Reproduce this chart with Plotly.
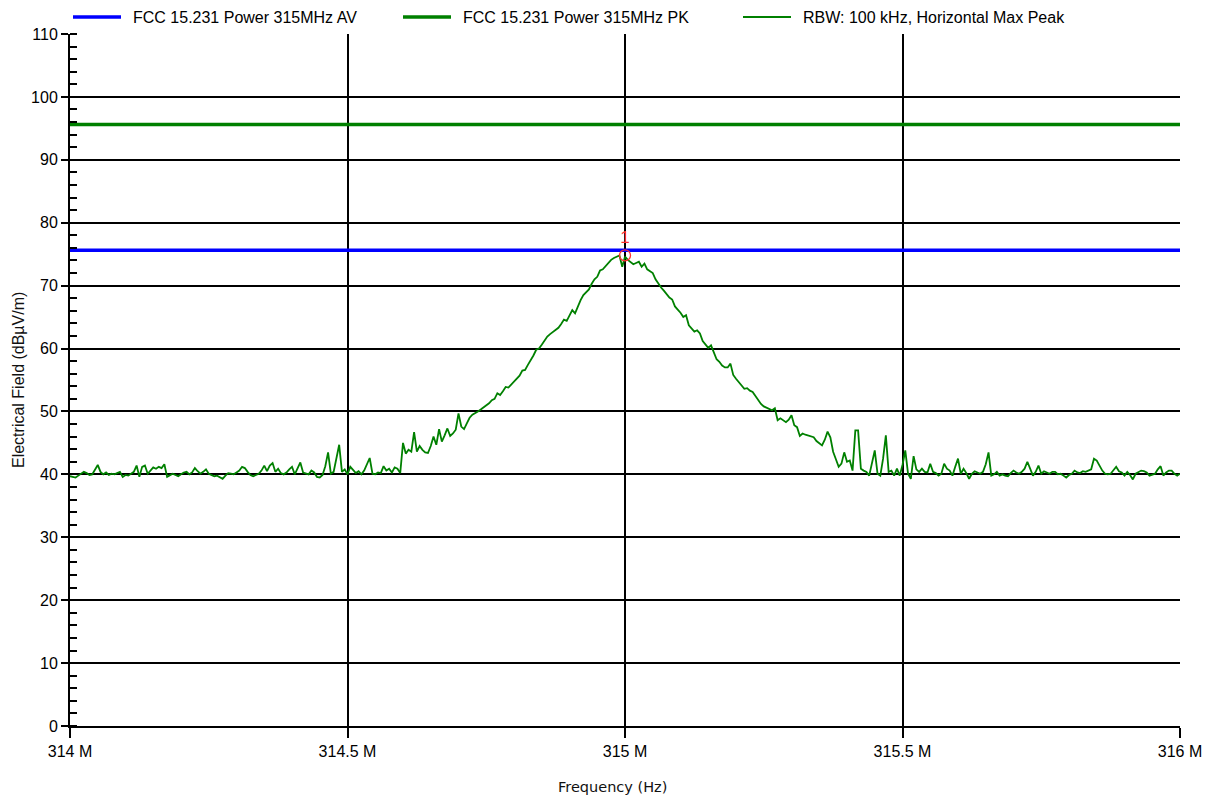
import numpy as np
import plotly.graph_objects as go

# Sweep settings: 314 MHz .. 316 MHz, 401 points
START_HZ = 314e6
STOP_HZ = 316e6
N_POINTS = 401

# Limit lines (dBuV/m)
limit_av = 75.62
limit_pk = 95.62

# Measured max-peak trace (dBuV/m), one value per sweep point
level = [
    39.7, 39.6, 39.5, 39.8, 40.1, 40.4, 40.2, 39.9, 40.0, 40.8,
    41.5, 40.4, 40.0, 40.3, 39.9, 40.1, 40.0, 40.2, 40.4, 39.6,
    39.9, 39.8, 40.1, 40.4, 41.4, 39.6, 41.2, 41.4, 40.1, 40.6,
    41.1, 40.9, 41.2, 41.0, 41.6, 39.6, 39.8, 40.1, 39.9, 39.7,
    40.0, 40.3, 40.4, 40.0, 40.3, 41.0, 40.5, 40.1, 40.4, 40.8,
    40.1, 39.9, 39.7, 39.8, 39.5, 39.3, 39.8, 40.2, 40.1, 40.0,
    40.3, 40.6, 41.2, 41.0, 40.4, 39.9, 39.7, 39.9, 40.1, 40.6,
    41.4, 40.5, 41.4, 41.8, 40.4, 40.9, 40.2, 40.0, 40.3, 40.8,
    41.2, 40.0, 41.0, 41.9, 40.3, 40.1, 40.0, 40.6, 40.3, 39.6,
    39.5, 39.9, 41.3, 43.5, 40.1, 40.4, 42.5, 44.7, 40.4, 40.8,
    40.0, 41.2, 40.7, 40.2, 40.5, 40.0, 40.6, 41.6, 42.6, 40.1,
    40.0, 40.3, 40.2, 41.3, 40.6, 40.9, 40.3, 41.1, 40.9, 40.2,
    45.0, 43.3, 43.9, 43.6, 46.7, 43.6, 44.5, 43.9, 43.5, 43.4,
    44.5, 46.0, 44.7, 47.2, 45.2, 46.2, 47.3, 46.1, 46.5, 47.1,
    49.7, 47.6, 47.2, 48.1, 49.0, 49.5, 49.7, 50.0, 50.3, 50.6,
    51.0, 51.3, 51.8, 52.0, 52.9, 52.6, 53.2, 53.9, 53.8, 54.3,
    54.8, 55.2, 55.7, 56.5, 56.6, 57.4, 58.1, 58.9, 59.8, 60.0,
    60.6, 61.3, 61.9, 62.3, 62.6, 62.9, 63.3, 63.9, 64.6, 64.4,
    65.3, 66.1, 65.6, 66.8, 67.7, 68.5, 68.9, 69.4, 70.3, 71.0,
    71.4, 72.4, 72.6, 73.1, 73.7, 74.1, 74.4, 74.6, 74.8, 73.0,
    74.6, 74.1, 73.7, 73.4, 73.6, 73.8, 73.0, 73.5, 72.6, 72.3,
    72.0, 71.0, 70.3, 69.7, 69.2, 68.6, 68.1, 67.8, 66.7, 66.2,
    65.7, 65.0, 65.3, 63.7, 63.2, 62.7, 62.9, 62.4, 61.2, 60.6,
    60.1, 60.5, 59.4, 58.3, 57.9, 57.3, 57.0, 57.0, 57.6, 55.8,
    55.2, 54.6, 54.0, 53.6, 53.7, 53.3, 53.1, 52.4, 51.8, 51.2,
    50.8, 50.6, 50.3, 50.2, 50.5, 48.6, 48.9, 48.6, 48.3, 48.7,
    49.4, 47.8, 47.5, 46.1, 46.5, 46.3, 46.2, 46.1, 45.9, 45.3,
    44.9, 44.6, 45.5, 46.8, 45.9, 43.6, 42.4, 41.2, 41.7, 43.5,
    42.0, 42.2, 40.6, 47.0, 47.0, 40.9, 40.6, 40.4, 39.8, 41.8,
    43.8, 40.1, 39.8, 42.5, 46.2, 40.4, 40.6, 39.8, 40.9, 39.8,
    41.5, 43.8, 40.1, 39.3, 42.9, 40.8, 40.4, 40.9, 40.4, 40.3,
    41.7, 40.4, 40.2, 39.8, 40.1, 41.7, 40.9, 40.6, 39.8, 41.2,
    42.5, 40.1, 40.9, 40.2, 39.3, 40.1, 40.5, 40.3, 40.1, 40.4,
    41.6, 43.5, 39.8, 40.0, 40.4, 39.8, 40.0, 39.8, 39.7, 40.2,
    40.6, 40.3, 40.1, 40.4, 40.9, 42.0, 40.8, 39.8, 40.4, 41.4,
    40.1, 40.5, 40.3, 40.1, 40.4, 40.4, 40.0, 40.1, 39.8, 39.5,
    39.9, 40.1, 40.6, 40.3, 40.2, 40.5, 40.4, 40.6, 40.8, 42.5,
    42.2, 41.4, 40.6, 40.1, 40.0, 40.1, 40.7, 41.2, 40.5, 40.3,
    39.8, 40.4, 39.9, 39.2, 40.1, 40.4, 40.6, 40.5, 40.3, 39.8,
    40.0, 40.1, 40.8, 41.3, 39.8, 40.3, 40.6, 40.6, 40.1, 39.8,
    40.1,
]

# Marker 1 position
marker_freq = 315e6
marker_level = 74.8
marker_label = "1"

x_tick_vals = [314e6, 314.5e6, 315e6, 315.5e6, 316e6]
x_tick_text = ["314 M", "314.5 M", "315 M", "315.5 M", "316 M"]
y_tick_vals = list(range(0, 111, 10))

legend_names = [
    "FCC 15.231 Power 315MHz AV",
    "FCC 15.231 Power 315MHz PK",
    "RBW: 100 kHz, Horizontal Max Peak",
]
legend_colors = ["#0000ff", "#008000", "#008000"]
legend_widths = [3.5, 3.5, 1.8]

freq = np.linspace(START_HZ, STOP_HZ, N_POINTS)

FONT = "Liberation Sans, Arial, sans-serif"
W, H = 1212, 797
ML, MR, MT, MB = 70, 32, 34, 71
PW, PH = W - ML - MR, H - MT - MB


def px_x(px):
    """Horizontal pixel position -> paper coordinate."""
    return (px - ML) / PW


def px_y(py):
    """Vertical pixel position (from top) -> paper coordinate."""
    return (H - MB - py) / PH


fig = go.Figure()

fig.add_trace(go.Scatter(
    x=[START_HZ, STOP_HZ], y=[limit_av, limit_av], mode="lines",
    line=dict(color=legend_colors[0], width=legend_widths[0]),
    name=legend_names[0], showlegend=False,
))
fig.add_trace(go.Scatter(
    x=[START_HZ, STOP_HZ], y=[limit_pk, limit_pk], mode="lines",
    line=dict(color=legend_colors[1], width=legend_widths[1]),
    name=legend_names[1], showlegend=False,
))
fig.add_trace(go.Scatter(
    x=freq, y=level, mode="lines",
    line=dict(color=legend_colors[2], width=legend_widths[2]),
    name=legend_names[2], showlegend=False,
))
fig.add_trace(go.Scatter(
    x=[marker_freq], y=[marker_level], mode="markers+text",
    marker=dict(symbol="circle-open", size=11, color="#ff3030", line=dict(width=1.3)),
    text=[marker_label], textposition="top center",
    textfont=dict(color="#ff3030", size=17, family=FONT),
    showlegend=False, hoverinfo="skip",
))

# Legend row across the top edge
shapes = []
annotations = []
legend_starts = [73, 403, 743]
for name, color, lw, x0 in zip(legend_names, legend_colors, legend_widths, legend_starts):
    shapes.append(dict(type="line", xref="paper", yref="paper",
                       x0=px_x(x0), x1=px_x(x0 + 48), y0=px_y(17), y1=px_y(17),
                       line=dict(color=color, width=lw)))
    annotations.append(dict(text=name, xref="paper", yref="paper",
                            x=px_x(x0 + 58), y=px_y(17), showarrow=False,
                            xanchor="left", yanchor="middle",
                            font=dict(size=16, family=FONT, color="#000")))

annotations += [
    dict(text="Electrical Field (dBµV/m)", xref="paper", yref="paper",
         x=px_x(18), y=px_y(380), textangle=-90, showarrow=False,
         xanchor="center", yanchor="middle",
         font=dict(size=16, family=FONT, color="#111")),
    dict(text="Frequency (Hz)", xref="paper", yref="paper",
         x=px_x(612), y=px_y(787), showarrow=False,
         xanchor="center", yanchor="middle",
         font=dict(size=14.5, family="DejaVu Sans, Verdana, sans-serif", color="#111")),
]

fig.update_layout(
    width=W, height=H,
    margin=dict(l=ML, r=MR, t=MT, b=MB, autoexpand=False),
    paper_bgcolor="white", plot_bgcolor="white",
    font=dict(family=FONT, size=16, color="#000"),
    showlegend=False,
    xaxis=dict(
        range=[START_HZ, STOP_HZ], tickmode="array",
        tickvals=x_tick_vals, ticktext=x_tick_text,
        showgrid=True, gridcolor="black", gridwidth=2,
        showline=True, linecolor="black", linewidth=2,
        ticks="outside", ticklen=10, tickwidth=2, tickcolor="black",
        zeroline=False, tickfont=dict(size=16, family=FONT, color="#000"),
    ),
    yaxis=dict(
        range=[0, 110], tickmode="array", tickvals=y_tick_vals,
        showgrid=True, gridcolor="black", gridwidth=2,
        showline=True, linecolor="black", linewidth=2,
        ticks="outside", ticklen=7, tickwidth=2, tickcolor="black",
        zeroline=False, tickfont=dict(size=16, family=FONT, color="#000"),
        minor=dict(dtick=2, tick0=0, ticks="inside", ticklen=7,
                   tickwidth=1.5, tickcolor="black", showgrid=False),
    ),
    shapes=shapes,
    annotations=annotations,
)

fig.write_html("out.html")
